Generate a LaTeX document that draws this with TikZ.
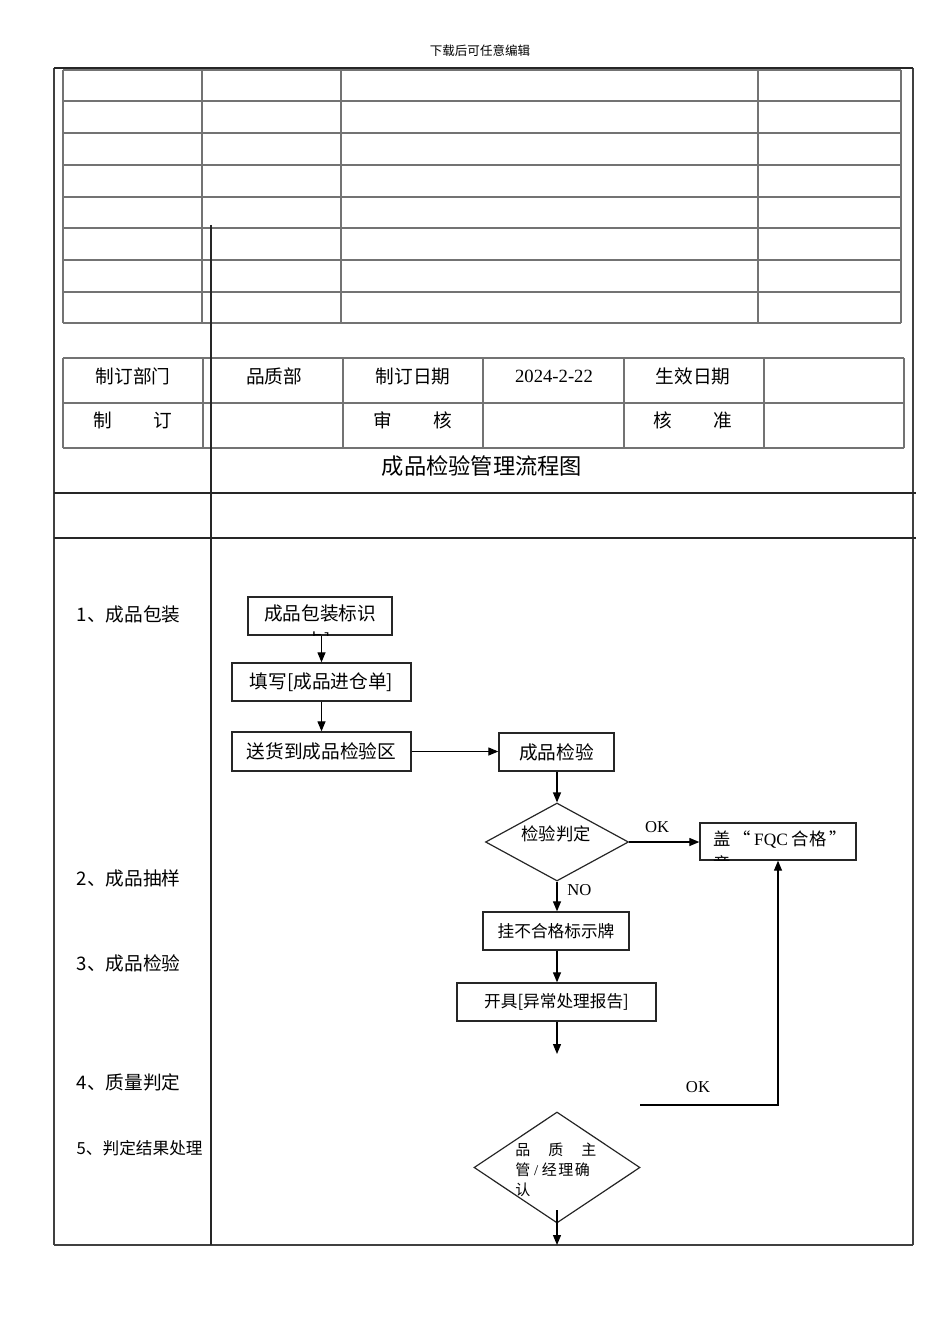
\documentclass[tikz,border=0pt]{standalone}
\usepackage{fontspec}
\setmainfont{Noto Sans CJK SC}
\newfontfamily\lat{Liberation Serif}
\usetikzlibrary{arrows.meta,shapes.geometric}
\begin{document}
\begin{tikzpicture}[x=0.75pt,y=-0.75pt,
  grid/.style={draw=black!55, line width=0.8pt},
  frame/.style={draw=black!75, line width=0.9pt},
  heavy/.style={draw=black!85, line width=1.5pt},
  box/.style={draw=black!85, line width=1pt, rectangle, inner sep=0pt},
  dia/.style={draw=black!85, line width=0.9pt, diamond, inner sep=0pt},
  arr/.style={-{Triangle[length=7.5pt,width=6pt]}, line width=0.9pt},
  tbl/.style={font=\fontsize{14}{16}\selectfont},
  lbl/.style={font=\fontsize{14}{16}\selectfont, anchor=west},
  btxt/.style={font=\fontsize{14}{16}\selectfont},
  sml/.style={font=\fontsize{12.5}{14}\selectfont},
  lt/.style={font=\lat\fontsize{12.5}{14}\selectfont}]
\useasboundingbox (0,0) rectangle (950,1344);

% header
\node[font=\fontsize{9.4}{11}\selectfont] (hdr) at (480,51) {下载后可任意编辑};

% outer frame
\draw[frame] (54,68) -- (54,1245);
\draw[frame] (913,68) -- (913,1245);
\draw[heavy, line width=1.2pt] (54,68) -- (913,68);
\draw[frame] (54,1245) -- (913,1245);

% top table
\foreach \yy in {70,101,133,165,197,228,260,292,323}
  \draw[grid] (63,\yy) -- (901,\yy);
\foreach \xx in {63,202,341,758,901}
  \draw[grid] (\xx,70) -- (\xx,323);

% second table
\foreach \yy in {358,403,448}
  \draw[grid] (63,\yy) -- (904,\yy);
\foreach \xx in {63,203,343,483,624,764,904}
  \draw[grid] (\xx,358) -- (\xx,448);

\node[tbl] (t1) at (133,376) {制订部门};
\node[tbl] (t2) at (274,376) {品质部};
\node[tbl] (t3) at (413,376) {制订日期};
\node[font=\lat\fontsize{14}{16}\selectfont] (t4) at (554,376) {2024-2-22};
\node[tbl] (t5) at (693,376) {生效日期};
\node[tbl] (t6) at (133,420) {制\hspace{2.2em}订};
\node[tbl] (t7) at (413,420) {审\hspace{2.2em}核};
\node[tbl] (t8) at (693,420) {核\hspace{2.2em}准};

% title
\node[font=\fontsize{16.7}{19}\selectfont] (title) at (482,466) {成品检验管理流程图};

% heavy lines
\draw[heavy] (211,225) -- (211,1245);
\draw[heavy] (54,493) -- (916,493);
\draw[heavy] (54,538) -- (916,538);

% left labels
\node[lbl] (l1) at (72,614) {1、成品包装};
\node[lbl] (l2) at (72,878) {2、成品抽样};
\node[lbl] (l3) at (72,963) {3、成品检验};
\node[lbl] (l4) at (72,1082) {4、质量判定};
\node[lbl, font=\fontsize{12.5}{14}\selectfont] (l5) at (72,1148) {5、判定结果处理};

% boxes
\node[box, minimum width=108pt, minimum height=28.5pt] (b1) at (320,616) {};
\node[btxt] (b1t) at (320,613) {成品包装标识};
\begin{scope}
  \clip (248,597) rectangle (392,635);
  \node[btxt] (b1f) at (318,641) {卡]};
\end{scope}
\node[box, minimum width=134.25pt, minimum height=28.5pt, btxt] (b2) at (321.5,682) {填写[成品进仓单]};
\node[box, minimum width=134.25pt, minimum height=29.25pt, btxt] (b3) at (321.5,751.5) {送货到成品检验区};
\node[box, minimum width=86.25pt, minimum height=28.5pt, btxt] (b4) at (556.5,752) {成品检验};
\node[box, minimum width=117pt, minimum height=27.75pt] (b5) at (778,841.5) {};
\node[btxt, anchor=west, font=\fontsize{13}{15}\selectfont] (b5t) at (709,840) {盖\,“\,{\lat FQC} 合格\,”};
\begin{scope}
  \clip (700,823) rectangle (856,860);
  \node[btxt, anchor=west, font=\fontsize{13}{15}\selectfont] (b5f) at (709,864) {章};
\end{scope}
\node[box, minimum width=109.5pt, minimum height=28.5pt, sml] (b6) at (556,931) {挂不合格标示牌};
\node[box, minimum width=149.25pt, minimum height=28.5pt, sml] (b7) at (556.5,1002) {开具[异常处理报告]};

% diamonds
\node[dia, minimum width=107.25pt, minimum height=58.5pt] (d1) at (557,842) {};
\node[font=\fontsize{13}{15}\selectfont] (d1t) at (556,834) {检验判定};
\node[dia, minimum width=124.5pt, minimum height=83.25pt] (d2) at (557,1167.5) {};
\node[anchor=north west, align=left, font=\fontsize{11.25}{15}\selectfont, inner sep=0pt] (d2t) at (515,1143)
  {品\hspace{1.2em}质\hspace{1.2em}主\\管\hspace{0.25em}{\lat /}\hspace{0.25em}经\hspace{0.1em}理\hspace{0.1em}确\\认};

% connectors
\draw[arr] (b2.north |- b1.south) -- (b2.north);
\draw[arr] (b2.south) -- (b3.north);
\draw[arr] (b3.east) -- (b3.east -| b4.west);
\draw[arr] (d1.north |- b4.south) -- (d1.north);
\draw[arr] (d1.east) -- (d1.east -| b5.west) node[pos=0.4, above=3pt, lt] (ok1) {OK};
\draw[arr] (d1.south) -- (d1.south |- b6.north) node[pos=0.3, right=4pt, lt] (no1) {NO};
\draw[arr] (d1.south |- b6.south) -- (d1.south |- b7.north);
\coordinate (e7) at (557,1054);
\draw[arr] (d1.south |- b7.south) -- (e7);
\coordinate (r0) at (640,1105);
\coordinate (r1) at (778,1105);
\draw[arr] (r0) -- (r1) -- (b5.south);
\node[lt] (ok2) at (698,1087) {OK};
\coordinate (s0) at (557,1210);
\coordinate (s1) at (557,1245);
\draw[arr] (s0) -- (s1);
\end{tikzpicture}
\end{document}
